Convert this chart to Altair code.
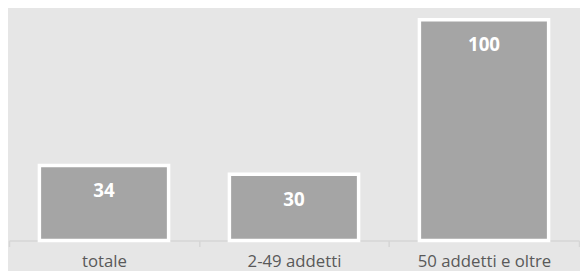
import altair as alt
import pandas as pd

categories = ["totale", "2-49 addetti", "50 addetti e oltre"]
values = [34, 30, 100]

df = pd.DataFrame({"cat": categories, "val": values})

x = alt.X(
    "cat:N",
    sort=categories,
    title=None,
    scale=alt.Scale(paddingInner=0, paddingOuter=0),
    axis=alt.Axis(
        labelAngle=0,
        labelFont="Open Sans",
        labelFontSize=17,
        labelColor="#595959",
        labelPadding=7,
        domainColor="#d6d6d6",
        domainWidth=1.5,
        tickColor="#d6d6d6",
        tickWidth=1.5,
        tickSize=6,
        tickBand="extent",
    ),
)
y = alt.Y("val:Q", scale=alt.Scale(domain=[0, 104.5]), axis=None)

bars = alt.Chart(df).mark_bar(
    color="#a5a5a5", stroke="white", strokeWidth=3.5,
    width=alt.RelativeBandSize(0.68)
).encode(x=x, y=y)

labels = alt.Chart(df).mark_text(
    color="white", font="Open Sans", fontWeight="bold", fontSize=19,
    baseline="middle", dy=26
).encode(x=alt.X("cat:N", sort=categories), y=y, text="val:Q")

chart = (
    alt.layer(bars, labels)
    .properties(
        width=580, height=263,
        background="#e6e6e6",
        padding=0,
        autosize=alt.AutoSizeParams(type="fit", contains="padding"),
    )
    .configure_view(stroke=None)
)

chart.save("out.html", embed_options={"renderer": "svg", "actions": False})
